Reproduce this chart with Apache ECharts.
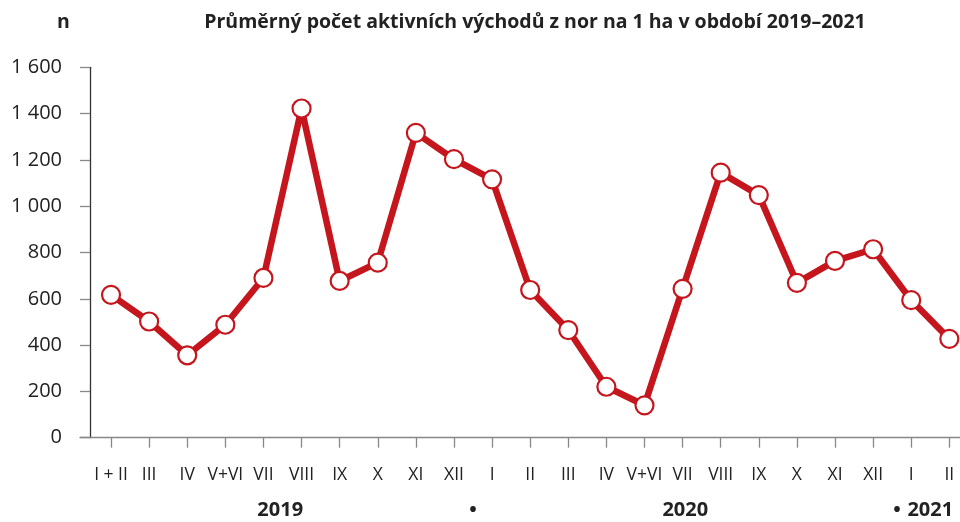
<!DOCTYPE html>
<html>
<head>
<meta charset="utf-8">
<script src="https://cdn.jsdelivr.net/npm/echarts@6/dist/echarts.min.js"></script>
<style>html,body{margin:0;padding:0;background:#fff}#c{width:960px;height:522px}</style>
</head>
<body>
<div id="c"></div>
<script>
var monthLabels = ['I + II','III','IV','V+VI','VII','VIII','IX','X','XI','XII','I','II','III','IV','V+VI','VII','VIII','IX','X','XI','XII','I','II'];
var values = [617, 502, 356, 488, 690, 1422, 677, 756, 1317, 1203, 1116, 638, 465, 220, 140, 643, 1145, 1048, 669, 764, 814, 594, 427];
var yearLabels = ['2019', '•', '2020', '•', '2021'];
var yearSlots = [4.44, 9.5, 15.07, 20.63, 21.5];
var yTicks = [0, 200, 400, 600, 800, 1000, 1200, 1400, 1600];

var FONT = '"Open Sans", "Noto Sans", sans-serif';
var chart = echarts.init(document.getElementById('c'), null, {renderer: 'canvas'});
var idx = monthLabels.map(function (_, i) { return i; });
var seriesData = values.map(function (v, i) { return [i, v]; });

chart.setOption({
  animation: false,
  backgroundColor: '#fff',
  title: [
    {text: 'n', left: 52, top: 7, textStyle: {fontFamily: FONT, fontWeight: 'bold', fontSize: 19.5, color: '#222'}},
    {text: 'Průměrný počet aktivních východů z nor na 1 ha v období 2019–2021', left: 530, textAlign: 'center', top: 7,
     textStyle: {fontFamily: FONT, fontWeight: 'bold', fontSize: 19.5, color: '#222'}}
  ],
  grid: {left: 80, right: 0, top: 67.3, bottom: 84.3, containLabel: false},
  xAxis: [
    {
      type: 'value', min: -0.814, max: 22.28,
      splitLine: {show: false},
      axisLine: {show: true, lineStyle: {color: '#888', width: 1.3}},
      axisTick: {show: true, length: 10, lineStyle: {color: '#888', width: 1.3}, customValues: idx},
      axisLabel: {
        customValues: idx, margin: 28, fontFamily: FONT, fontSize: 17.5, color: '#222',
        formatter: function (v) { return monthLabels[Math.round(v)]; }
      }
    },
    {
      type: 'value', min: -0.814, max: 22.28, position: 'bottom',
      splitLine: {show: false}, axisLine: {show: false}, axisTick: {show: false},
      axisLabel: {
        customValues: yearSlots, margin: 63, fontFamily: FONT, fontSize: 20, fontWeight: 'bold', color: '#222',
        formatter: function (v) {
          for (var i = 0; i < yearSlots.length; i++) if (Math.abs(yearSlots[i] - v) < 1e-6) return yearLabels[i];
          return '';
        }
      }
    }
  ],
  yAxis: {
    type: 'value', min: 0, max: 1600, interval: 200, offset: -10,
    splitLine: {show: false},
    axisLine: {show: true, onZero: false, lineStyle: {color: '#333', width: 1.3}},
    axisTick: {show: true, length: 10, lineStyle: {color: '#888', width: 1.3}},
    axisLabel: {
      margin: 28, fontFamily: FONT, fontSize: 20, color: '#222',
      formatter: function (v) { return String(v).replace(/\B(?=(\d{3})+(?!\d))/g, ' '); }
    }
  },
  series: [{
    type: 'line', xAxisIndex: 0, data: seriesData,
    lineStyle: {color: '#c4161c', width: 6.5},
    symbol: 'circle', symbolSize: 18,
    itemStyle: {color: '#fff', borderColor: '#c4161c', borderWidth: 2.2},
    z: 3
  }]
});
</script>
</body>
</html>
